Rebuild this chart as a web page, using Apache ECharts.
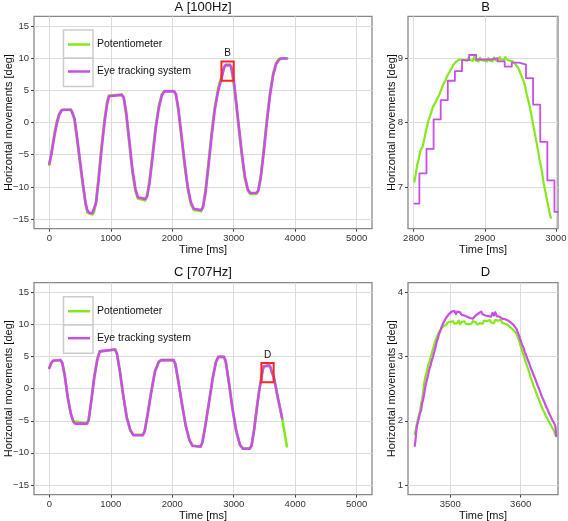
<!DOCTYPE html>
<html><head><meta charset="utf-8">
<script src="https://cdn.jsdelivr.net/npm/echarts@6/dist/echarts.min.js"></script>
<style>html,body{margin:0;padding:0;background:#fff}#c{width:568px;height:521px}</style>
</head><body><div id="c"></div>
<script>
// ---------------- DATA ----------------
const panelTitles = ['A [100Hz]', 'B', 'C [707Hz]', 'D'];
const seriesNames = ['Potentiometer', 'Eye tracking system'];
const xTitle = 'Time [ms]';
const yTitle = 'Horizontal movements [deg]';

const mainXTicks = [0, 1000, 2000, 3000, 4000, 5000];
const mainYTicks = [-15, -10, -5, 0, 5, 10, 15];
const bXTicks = [2800, 2900, 3000];
const bYTicks = [7, 8, 9];
const dXTicks = [3500, 3600];
const dYTicks = [1, 2, 3, 4];

const boxB = [2800, 3000, 6.5, 9.5];
const boxD = [3450, 3650, 1, 4];

// Panel A (100 Hz)
const A_potT = [0,40,80,120,160,200,240,350,380,410,450,500,550,590,620,650,700,730,760,800,850,900,940,970,1000,1180,1210,1250,1300,1350,1400,1440,1470,1560,1590,1630,1680,1730,1780,1830,1870,2030,2060,2100,2150,2200,2250,2300,2350,2380,2470,2500,2540,2590,2640,2690,2740,2770,2800,2830,2850,2870,2940,2955,2970,2985,2995,3030,3080,3130,3180,3230,3270,3370,3400,3440,3490,3540,3590,3640,3690,3740,3780,3870];
const A_potV = [-6.6,-4.2,-1.8,0.1,1.4,1.95,2.0,2.0,1.6,0.3,-2.6,-6.5,-10.2,-12.8,-14.0,-14.3,-14.3,-13.8,-12.2,-8.6,-3.6,0.6,3.2,4.2,4.35,4.35,3.8,1.2,-3.2,-7.6,-10.6,-11.8,-12.1,-12.1,-11.4,-9.0,-4.8,-0.6,2.6,4.4,4.9,4.9,4.3,1.8,-2.4,-6.6,-10.2,-12.6,-13.6,-13.8,-13.8,-13.0,-10.5,-6.2,-1.6,2.3,5.0,6.2,7.07,8.3,8.8,9.0,9.0,8.65,7.85,6.95,6.35,3.6,-0.8,-5.0,-8.6,-10.6,-11.1,-11.1,-10.5,-8.2,-4.0,0.6,4.6,7.6,9.3,9.9,10.0,10.0];
const A_eyeT = [0,40,80,120,160,200,240,350,380,410,450,500,550,590,620,650,700,730,760,800,850,900,940,970,1000,1180,1210,1250,1300,1350,1400,1440,1470,1560,1590,1630,1680,1730,1780,1830,1870,2030,2060,2100,2150,2200,2250,2300,2350,2380,2470,2500,2540,2590,2640,2690,2740,2770,2800,2830,2850,2870,2880,2940,2960,2975,2990,3000,3030,3080,3130,3180,3230,3270,3370,3400,3440,3490,3540,3590,3640,3690,3740,3780,3860];
const A_eyeV = [-6.4,-4.6,-2.2,-0.2,1.2,1.9,2.0,2.0,1.7,0.6,-2.2,-6.0,-9.8,-12.5,-13.7,-14.05,-14.05,-13.8,-12.5,-9.1,-4.1,0.2,2.9,4.1,4.3,4.3,3.9,1.6,-2.7,-7.2,-10.3,-11.6,-11.9,-11.9,-11.5,-9.4,-5.3,-1.0,2.2,4.2,4.85,4.85,4.4,2.1,-2.0,-6.2,-9.9,-12.3,-13.4,-13.6,-13.6,-13.2,-11.0,-6.7,-2.1,1.9,4.6,5.8,6.74,8.05,8.65,8.97,9.05,8.93,8.6,7.9,7.0,6.6,4.1,-0.3,-4.6,-8.3,-10.4,-10.95,-10.95,-10.6,-8.6,-4.5,0.1,4.2,7.3,9.1,9.8,9.95,9.95];

// Panel B (zoom of A, 2800-3000 ms)
const B_potT = [2801,2803,2805,2807,2809,2811,2813,2815,2817,2819,2821,2823,2825,2827,2829,2831,2833,2835,2837,2839,2841,2843,2845,2847,2849,2851,2853,2855,2857,2859,2861,2863,2865,2867,2869,2871,2873,2875,2877,2879,2881,2883,2885,2887,2889,2891,2893,2895,2897,2899,2901,2903,2905,2907,2909,2911,2913,2915,2917,2919,2921,2923,2925,2927,2929,2931,2933,2935,2937,2939,2941,2943,2945,2947,2949,2951,2953,2955,2957,2959,2961,2963,2965,2967,2969,2971,2973,2975,2977,2979,2981,2983,2985,2987,2989,2991,2993];
const B_potV = [7.08,7.20,7.35,7.42,7.55,7.58,7.64,7.75,7.86,7.95,8.04,8.10,8.17,8.24,8.27,8.32,8.37,8.41,8.46,8.52,8.58,8.62,8.66,8.72,8.76,8.80,8.84,8.88,8.91,8.94,8.96,8.97,8.99,8.98,9.01,8.97,9.00,8.96,9.01,8.97,9.00,8.96,9.02,8.97,8.99,8.95,9.01,8.97,9.00,8.96,8.99,8.95,9.00,8.96,8.99,8.95,9.01,8.97,9.00,8.96,9.02,8.98,9.01,8.97,9.02,8.98,9.00,8.96,8.98,8.95,8.93,8.91,8.88,8.85,8.80,8.74,8.69,8.63,8.55,8.44,8.35,8.26,8.15,8.03,7.91,7.80,7.68,7.56,7.43,7.32,7.19,7.05,6.94,6.82,6.72,6.60,6.52];
const B_eyeT = [2801,2808,2818,2828,2838,2848,2858,2868,2878,2888,2898,2908,2918,2928,2938,2948,2958,2968,2978,2988,2998,3003];
const B_eyeV = [6.74,7.21,7.59,8.05,8.35,8.65,8.80,8.97,9.05,8.98,8.98,9.00,8.95,8.87,8.93,8.90,8.69,8.28,7.70,7.10,6.61,6.61];

// Panel C (707 Hz)
const C_potT = [0,30,60,90,180,210,250,300,350,390,420,610,640,680,730,780,820,850,1070,1100,1150,1200,1260,1320,1370,1520,1550,1600,1660,1720,1780,1820,2020,2050,2100,2160,2220,2280,2330,2360,2460,2490,2540,2600,2660,2710,2750,2840,2870,2920,2980,3040,3100,3150,3260,3290,3330,3380,3420,3450,3470,3490,3500,3580,3600,3620,3650,3680,3720,3760,3790,3830,3865];
const C_potV = [3.25,4.0,4.35,4.45,4.45,4.0,2.0,-1.5,-4.0,-5.1,-5.4,-5.4,-4.8,-2.0,1.8,4.6,5.8,6.1,6.1,5.4,2.5,-1.0,-4.6,-6.6,-7.2,-7.2,-6.6,-3.9,-0.3,2.8,4.2,4.45,4.45,3.8,1.0,-2.6,-5.9,-8.1,-8.9,-9.0,-9.0,-8.3,-5.6,-1.9,1.8,4.2,4.95,4.95,4.2,1.0,-3.2,-6.6,-8.8,-9.3,-9.3,-8.8,-6.4,-2.6,0.2,1.8,2.9,3.47,3.53,3.55,3.2,2.5,1.8,0.4,-1.6,-3.4,-4.7,-7.0,-9.0];
const C_eyeT = [0,30,60,90,180,210,250,300,350,390,420,610,640,680,730,780,820,850,1070,1100,1150,1200,1260,1320,1370,1520,1550,1600,1660,1720,1780,1820,2020,2050,2100,2160,2220,2280,2330,2360,2460,2490,2540,2600,2660,2710,2750,2840,2870,2920,2980,3040,3100,3150,3260,3290,3330,3380,3420,3450,3470,3490,3500,3580,3600,3620,3650,3680,3720,3760,3787];
const C_eyeV = [3.2,3.95,4.35,4.45,4.45,4.05,2.1,-1.4,-3.9,-5.1,-5.45,-5.45,-4.9,-2.1,1.7,4.5,5.8,6.1,6.1,5.45,2.6,-0.9,-4.5,-6.5,-7.25,-7.25,-6.7,-4.0,-0.4,2.7,4.15,4.45,4.45,3.85,1.1,-2.5,-5.8,-8.0,-8.9,-9.05,-9.05,-8.4,-5.7,-2.0,1.7,4.1,4.95,4.95,4.25,1.1,-3.1,-6.5,-8.7,-9.35,-9.35,-8.9,-6.6,-2.8,0.0,1.6,2.8,3.5,3.65,3.62,3.3,2.6,1.9,0.5,-1.5,-3.3,-4.6];

// Panel D (zoom of C, 3450-3650 ms)
const D_potT = [3449.5,3451,3452.5,3454,3455.5,3457,3458.5,3460,3461.5,3463,3464.5,3466,3467.5,3469,3470.5,3472,3473.5,3475,3476.5,3478,3479.5,3481,3482.5,3484,3485.5,3487,3488.5,3490,3492,3494,3496,3498,3500,3502,3504,3506,3508,3510,3512,3514,3516,3518,3520,3522,3524,3526,3528,3530,3532,3534,3536,3538,3540,3542,3544,3546,3548,3550,3552,3554,3556,3558,3560,3562,3564,3566,3568,3570,3572,3574,3576,3578,3580,3582,3584,3586,3588,3590,3592,3594,3596,3598,3600,3602,3604,3606,3608,3610,3612,3614,3616,3618,3620,3622,3624,3626,3628,3630,3632,3634,3636,3638,3640,3642,3644,3646,3648,3649.5];
const D_potV = [1.79,1.86,1.95,2.02,2.08,2.14,2.26,2.33,2.45,2.58,2.68,2.74,2.80,2.88,2.92,2.99,3.04,3.10,3.15,3.22,3.25,3.31,3.34,3.38,3.41,3.43,3.46,3.47,3.50,3.49,3.53,3.51,3.54,3.52,3.55,3.51,3.54,3.52,3.56,3.50,3.54,3.52,3.55,3.51,3.54,3.50,3.53,3.51,3.55,3.52,3.54,3.50,3.53,3.52,3.55,3.51,3.56,3.53,3.55,3.52,3.57,3.53,3.56,3.52,3.57,3.54,3.56,3.53,3.57,3.52,3.55,3.51,3.50,3.49,3.47,3.45,3.44,3.41,3.38,3.35,3.30,3.24,3.16,3.09,3.03,2.95,2.89,2.82,2.76,2.68,2.62,2.55,2.50,2.44,2.38,2.33,2.27,2.21,2.16,2.12,2.07,2.03,1.99,1.96,1.91,1.87,1.82,1.77];
const D_eyeT = [3449.5,3450.5,3451.5,3452.5,3454,3455.5,3457,3458.5,3460,3461.5,3463,3464.5,3466,3467.5,3469,3470.5,3472,3473.5,3475,3476.5,3478,3479.5,3481,3482.5,3484,3485.5,3487,3488.5,3490,3492,3494,3496,3498,3500,3502,3504,3506,3508,3510,3512,3514,3516,3518,3520,3522,3524,3526,3528,3530,3532,3534,3536,3538,3540,3542,3544,3546,3548,3550,3552,3554,3556,3558,3560,3562,3564,3566,3568,3570,3572,3574,3576,3578,3580,3582,3584,3586,3588,3590,3592,3594,3596,3598,3600,3602,3604,3606,3608,3610,3612,3614,3616,3618,3620,3622,3624,3626,3628,3630,3632,3634,3636,3638,3640,3642,3644,3646,3648,3649.5,3650.5];
const D_eyeV = [1.61,1.68,1.80,1.91,1.97,2.05,2.12,2.16,2.27,2.33,2.42,2.52,2.60,2.66,2.74,2.81,2.86,2.93,2.98,3.04,3.10,3.17,3.24,3.28,3.35,3.39,3.44,3.47,3.52,3.56,3.60,3.62,3.66,3.65,3.70,3.67,3.71,3.66,3.70,3.67,3.69,3.65,3.68,3.64,3.66,3.62,3.64,3.60,3.62,3.59,3.61,3.64,3.62,3.67,3.65,3.70,3.66,3.69,3.64,3.67,3.63,3.66,3.62,3.68,3.64,3.69,3.63,3.66,3.62,3.64,3.59,3.62,3.58,3.60,3.56,3.57,3.53,3.52,3.49,3.47,3.43,3.37,3.32,3.25,3.18,3.14,3.07,3.01,2.95,2.90,2.83,2.78,2.72,2.67,2.61,2.55,2.50,2.44,2.38,2.33,2.28,2.22,2.18,2.12,2.08,2.03,2.00,1.95,1.90,1.76];

// ---------------- CHART ----------------
const FONT = "'Liberation Sans', Arial, sans-serif";
const GREEN = '#84e81c';
const MAGENTA = '#c94ee6';
const zip = (t, v) => t.map((x, i) => [x, v[i]]);
const seq = (a, b, s) => { const r = []; for (let k = Math.round(a / s); k * s <= b + 1e-9; k++) r.push(+(k * s).toFixed(4)); return r; };
const fmt = v => String(v).replace('-', '\u2212');

const grids = [
  {left: 34, top: 16.4, width: 338, height: 212.3},
  {left: 408, top: 16.4, width: 150, height: 212.3},
  {left: 34, top: 282.7, width: 338, height: 211.9},
  {left: 408, top: 282.7, width: 150, height: 211.9}
];
const xr = [[-250, 5250], [2792, 3003], [-250, 5250], [3440, 3653]];
const yr = [[-16.5, 16.5], [6.35, 9.65], [-16.5, 16.5], [0.85, 4.15]];
const xt = [mainXTicks, bXTicks, mainXTicks, dXTicks];
const yt = [mainYTicks, bYTicks, mainYTicks, dYTicks];
const xMinor = [seq(-200, 5200, 100), seq(2800, 3000, 10), seq(-200, 5200, 100), seq(3440, 3650, 10)];
const yMinor = [seq(-16, 16, 1), seq(6.4, 9.6, 0.1), seq(-16, 16, 1), seq(0.9, 4.1, 0.1)];
const yGap = [20, 11, 20, 11];

const labelStyle = {fontSize: 9.5, color: '#333', fontFamily: FONT, formatter: fmt};
const nameStyle = {fontSize: 11, color: '#111', fontFamily: FONT};

const xAxes = [], yAxes = [];
for (let g = 0; g < 4; g++) {
  xAxes.push({type: 'value', gridIndex: g, position: 'bottom', min: xr[g][0], max: xr[g][1],
    axisLine: {show: false, onZero: false},
    axisTick: {show: true, length: 3, customValues: xt[g], lineStyle: {color: '#444', width: 1}},
    axisLabel: {customValues: xt[g], margin: 5, ...labelStyle},
    splitLine: {show: true, lineStyle: {color: '#dcdcdc', width: 1}},
    name: xTitle, nameLocation: 'middle', nameGap: 15.5, nameMoveOverlap: false, nameTextStyle: nameStyle});
  yAxes.push({type: 'value', gridIndex: g, position: 'left', min: yr[g][0], max: yr[g][1],
    axisLine: {show: false, onZero: false},
    axisTick: {show: true, length: 3, customValues: yt[g], lineStyle: {color: '#444', width: 1}},
    axisLabel: {customValues: yt[g], margin: 5, ...labelStyle},
    splitLine: {show: true, lineStyle: {color: '#dcdcdc', width: 1}},
    name: yTitle, nameLocation: 'middle', nameGap: yGap[g], nameMoveOverlap: false, nameTextStyle: nameStyle});
}
for (let g = 0; g < 4; g++) {
  xAxes.push({type: 'value', gridIndex: g, position: 'top', z: -1, min: xr[g][0], max: xr[g][1],
    axisLine: {show: false, onZero: false}, axisTick: {show: false, customValues: xMinor[g]}, axisLabel: {show: false},
    splitLine: {show: true, lineStyle: {color: '#eeeeee', width: 1}}});
  yAxes.push({type: 'value', gridIndex: g, position: 'right', z: -1, min: yr[g][0], max: yr[g][1],
    axisLine: {show: false, onZero: false}, axisTick: {show: false, customValues: yMinor[g]}, axisLabel: {show: false},
    splitLine: {show: true, lineStyle: {color: '#eeeeee', width: 1}}});
}

function line(name, g, data, color, width, extra) {
  return Object.assign({type: 'line', name, xAxisIndex: g, yAxisIndex: g, data, showSymbol: false,
    symbol: 'none', color, lineStyle: {color, width, cap: 'round', join: 'round'}, z: 3}, extra || {});
}
function box(b, label) {
  return {silent: true, z: 5,
    itemStyle: {color: 'rgba(0,0,0,0)', borderColor: '#ff2424', borderWidth: 2},
    label: {show: true, position: 'top', distance: 2, formatter: label, fontSize: 10, color: '#111', fontFamily: FONT},
    data: [[{xAxis: b[0], yAxis: b[2]}, {xAxis: b[1], yAxis: b[3]}]]};
}

const series = [
  line(seriesNames[0], 0, zip(A_potT, A_potV), GREEN, 2.6),
  line(seriesNames[1], 0, zip(A_eyeT, A_eyeV), MAGENTA, 2.6, {markArea: box(boxB, 'B')}),
  line(seriesNames[0], 1, zip(B_potT, B_potV), GREEN, 2.2),
  line(seriesNames[1], 1, zip(B_eyeT, B_eyeV), MAGENTA, 1.8, {step: 'end'}),
  line(seriesNames[0], 2, zip(C_potT, C_potV), GREEN, 2.6),
  line(seriesNames[1], 2, zip(C_eyeT, C_eyeV), MAGENTA, 2.6, {markArea: box(boxD, 'D')}),
  line(seriesNames[0], 3, zip(D_potT, D_potV), GREEN, 2.2),
  line(seriesNames[1], 3, zip(D_eyeT, D_eyeV), MAGENTA, 2.2)
];

function legendAt(top) {
  return {data: seriesNames, orient: 'vertical', left: 68, top: top, padding: 0, itemGap: 13,
    icon: 'rect', itemWidth: 22, itemHeight: 2.5, itemStyle: {borderWidth: 0}, z: 10,
    textStyle: {fontSize: 10.5, color: '#111', fontFamily: FONT, lineHeight: 14, padding: [0, 0, 0, 2]}};
}
function keyBoxes(top) {
  return [0, 1].map(i => ({type: 'rect', z: 8, shape: {x: 63.5, y: top + i * 28.3, width: 29.5, height: 28.3},
    style: {fill: '#fff', stroke: '#cccccc', lineWidth: 1.5}}));
}
function titleText(x, y, t) {
  return {type: 'text', z: 10, x, y, style: {text: t, fill: '#111', font: '13px ' + FONT, textAlign: 'center', textVerticalAlign: 'middle'}};
}

const chart = echarts.init(document.getElementById('c'), null, {renderer: 'canvas'});
chart.setOption({
  animation: false,
  backgroundColor: '#fff',
  grid: grids.map(g => Object.assign({show: true, backgroundColor: '#fff', borderColor: '#888', borderWidth: 1.3,
    containLabel: false, outerBoundsMode: 'none'}, g)),
  xAxis: xAxes,
  yAxis: yAxes,
  legend: [legendAt(37.5), legendAt(304.2)],
  graphic: [
    ...keyBoxes(30), ...keyBoxes(296.7),
    titleText(203, 7, panelTitles[0]), titleText(485.5, 7, panelTitles[1]),
    titleText(203, 272, panelTitles[2]), titleText(485.5, 272, panelTitles[3])
  ],
  series
});
</script></body></html>
